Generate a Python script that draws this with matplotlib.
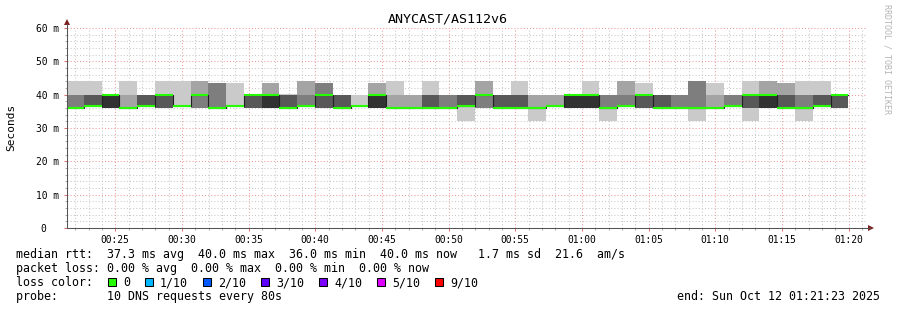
import numpy as np
import matplotlib
matplotlib.use('Agg')
import matplotlib.pyplot as plt
from matplotlib.lines import Line2D
from matplotlib.patches import Polygon, Rectangle

plt.rcParams['font.family'] = 'DejaVu Sans Mono'

W, H = 897, 310

title = 'ANYCAST/AS112v6'
ylabel = 'Seconds'

# window is 00:21:23 .. 01:21:23, x in seconds after 00:21:23
step_len = 80
first_step = -4

# 10 sorted ping rtts (ms) for each 80 s step
pings = [
    [36, 36, 36, 36, 36, 36, 36, 40, 40, 44],
    [36.5, 36.5, 36.5, 36.5, 36.5, 36.5, 40, 40, 40, 44],
    [36, 36, 36, 36, 36, 40, 40, 40, 40, 40.3],
    [36, 36, 36, 36, 36, 36, 36, 36, 40, 44],
    [36.5, 36.5, 36.5, 36.5, 36.5, 36.5, 40, 40, 40, 40],
    [36, 36, 36, 36, 40, 40, 40, 40, 40, 44],
    [36.5, 36.5, 36.5, 36.5, 36.5, 36.5, 36.5, 36.5, 36.5, 44],
    [36, 36, 36, 40, 40, 40, 40, 40, 44, 44],
    [36, 36, 36, 36, 36, 36, 36, 43.6, 43.6, 43.6],
    [36.5, 36.5, 36.5, 36.5, 36.5, 36.5, 36.5, 36.5, 36.5, 43.6],
    [36, 36, 36, 36, 40, 40, 40, 40, 40, 40],
    [36, 36, 36, 36, 36, 40, 40, 40, 43.6, 43.6],
    [36, 36, 36, 36, 36, 36, 40, 40, 40, 40.3],
    [36.5, 36.5, 36.5, 36.5, 36.5, 36.5, 36.5, 40, 44, 44],
    [36, 36, 36, 36, 40, 40, 40, 43.6, 43.6, 43.6],
    [36, 36, 36, 36, 36, 36, 40, 40, 40, 40],
    [36.5, 36.5, 36.5, 36.5, 36.5, 36.5, 36.5, 36.5, 36.5, 40],
    [36, 36, 36, 36, 36, 40, 40, 40, 43.6, 43.6],
    [36, 36, 36, 36, 36, 36, 36, 36, 40, 44],
    [36, 36, 36, 36, 36, 36, 36, 36, 40, 40],
    [36, 36, 36, 36, 36, 36, 40, 40, 40, 44],
    [36, 36, 36, 36, 36, 36, 36, 40, 40, 40],
    [32, 36.5, 36.5, 36.5, 36.5, 36.5, 40, 40, 40, 40],
    [36, 36, 36, 40, 40, 40, 40, 40, 44, 44],
    [36, 36, 36, 36, 36, 36, 40, 40, 40, 40],
    [36, 36, 36, 36, 36, 36, 40, 40, 40, 44],
    [32, 36, 36, 36, 36, 36, 36, 36, 40, 40],
    [36.5, 36.5, 36.5, 36.5, 36.5, 36.5, 36.5, 36.5, 40, 40],
    [36, 36, 36, 36, 36, 40, 40, 40, 40, 40],
    [36, 36, 36, 36, 36, 40, 40, 40, 40, 44],
    [32, 36, 36, 36, 36, 36, 36, 40, 40, 40],
    [36.5, 36.5, 36.5, 36.5, 36.5, 36.5, 36.5, 40, 44, 44],
    [36, 36, 36, 36, 40, 40, 40, 40, 40, 43.6],
    [36, 36, 36, 36, 36, 36, 40, 40, 40, 40],
    [36, 36, 36, 36, 36, 36, 36, 40, 40, 40],
    [32, 36, 36, 36, 36, 36, 36, 44, 44, 44],
    [36, 36, 36, 36, 36, 36, 36, 36, 40, 43.6],
    [36.5, 36.5, 36.5, 36.5, 36.5, 36.5, 36.5, 40, 40, 40],
    [32, 36, 36, 36, 40, 40, 40, 40, 40, 44],
    [36, 36, 36, 36, 36, 40, 40, 40, 44, 44],
    [36, 36, 36, 36, 36, 36, 40, 40, 43.6, 43.6],
    [32, 36, 36, 36, 36, 36, 36, 40, 40, 44],
    [36.5, 36.5, 36.5, 36.5, 36.5, 36.5, 40, 40, 40, 44],
    [36, 36, 36, 36, 40, 40, 40, 40, 40, 40],
]

median = [36, 36.5, 40, 36, 36.5, 40, 36.5, 40, 36, 36.5,
          40, 40, 36, 36.5, 40, 36, 36.5, 40, 36, 36,
          36, 36, 36.5, 40, 36, 36, 36, 36.5, 40, 40,
          36, 36.5, 40, 36, 36, 36, 36, 36.5, 40, 40,
          36, 36, 36.5, 40]

tick_sec = [217, 517, 817, 1117, 1417, 1717, 2017, 2317, 2617, 2917, 3217, 3517]
tick_lab = ['00:25', '00:30', '00:35', '00:40', '00:45', '00:50',
            '00:55', '01:00', '01:05', '01:10', '01:15', '01:20']
ytick_val = [0, 10, 20, 30, 40, 50, 60]
ytick_lab = ['0  ', '10 m', '20 m', '30 m', '40 m', '50 m', '60 m']

stats_rtt = 'median rtt:  37.3 ms avg  40.0 ms max  36.0 ms min  40.0 ms now   1.7 ms sd  21.6  am/s'
stats_loss = 'packet loss: 0.00 % avg  0.00 % max  0.00 % min  0.00 % now'
loss_labels = ['0', '1/10', '2/10', '3/10', '4/10', '5/10', '9/10']
loss_colors = ['#26ff00', '#00b8ff', '#0059ff', '#5e00ff', '#7e00ff', '#dd00ff', '#ff0000']
probe_txt = 'probe:       10 DNS requests every 80s'
end_txt = 'end: Sun Oct 12 01:21:23 2025'

# smokeping grey shades, outer band lightest
half = 5
shades = ['#' + ('%02x' % (int(190 / half * (half - i)) + 50)) * 3 for i in range(1, half + 1)]


def fx(x):
    return x / W


def fy(y):
    return 1 - y / H


fig = plt.figure(figsize=(W / 100, H / 100), dpi=100)
fig.patch.set_facecolor('white')
ax = fig.add_axes([fx(67), fy(228), 800 / W, 200 / H])
ax.set_xlim(0, 3600)
ax.set_ylim(0, 60)
for s in ax.spines.values():
    s.set_visible(False)

p = np.array(pings, dtype=float)
med = np.array(median, dtype=float)
n = len(med)
starts = first_step + step_len * np.arange(n)
edges = np.append(starts, starts[-1] + step_len)

for i in range(half):
    lo = np.append(p[:, i], p[-1, i])
    hi = np.append(p[:, 9 - i], p[-1, 9 - i])
    ax.fill_between(edges, lo, hi, step='post', color=shades[i], lw=0, zorder=2)

ax.step(edges, np.append(med, med[-1]), where='post', color='#202020', lw=0.8, zorder=3)
ax.hlines(med, starts, starts + step_len, color='#26ff00', lw=1.5, zorder=4)

# grid
minor_x = [t for t in range(37, 3600, 60) if (t - 217) % 300 != 0]
minor_y = [v for v in range(2, 60, 2) if v % 10 != 0]
ax.set_xticks(tick_sec, tick_lab)
ax.set_xticks(minor_x, minor=True)
ax.set_yticks(ytick_val, ytick_lab)
ax.set_yticks(minor_y, minor=True)
ax.set_axisbelow(True)
ax.grid(which='minor', color='#c8c8c8', ls=(0, (1, 2)), lw=0.75)
ax.grid(which='major', color='#ee9a9a', ls=(0, (1, 2)), lw=0.75)
ax.tick_params(which='major', length=2, width=0.75, color='#de6f6f', labelsize=6.9, pad=3)
ax.tick_params(which='minor', length=1.5, width=0.75, color='#aaaaaa')
ax.tick_params(axis='y', pad=4)

# axes with arrows
axc = '#555555'
arc = '#801f1f'
fig.add_artist(Line2D([fx(67), fx(870)], [fy(228), fy(228)], color=axc, lw=0.75))
fig.add_artist(Line2D([fx(67), fx(67)], [fy(228), fy(24)], color=axc, lw=0.75))
fig.add_artist(Polygon([[fx(64), fy(25)], [fx(70), fy(25)], [fx(67), fy(19)]], closed=True, color=arc, lw=0))
fig.add_artist(Polygon([[fx(868), fy(225)], [fx(868), fy(231)], [fx(874), fy(228)]], closed=True, color=arc, lw=0))

# titles
fig.text(fx(448), fy(19), title, ha='center', va='center', fontsize=9.6)
fig.text(fx(11), fy(127), ylabel, ha='center', va='center', rotation=90, fontsize=8)
fig.text(fx(887), fy(4), 'RRDTOOL / TOBI OETIKER', ha='center', va='top', rotation=270,
         fontsize=6, color='#b4b4b4')

# legend block
fs = 8.4
cw = 7.0
fig.text(fx(16), fy(258), stats_rtt, fontsize=fs, va='baseline')
fig.text(fx(16), fy(272), stats_loss, fontsize=fs, va='baseline')
fig.text(fx(16), fy(286), 'loss color:', fontsize=fs, va='baseline')
bx = 108
for lab, col in zip(loss_labels, loss_colors):
    fig.add_artist(Rectangle((fx(bx), fy(286)), 8 / W, 8 / H, facecolor=col,
                             edgecolor='black', lw=0.75))
    fig.text(fx(bx + 15), fy(286), lab, fontsize=fs, va='baseline')
    bx = bx + 15 + cw * len(lab) + 15
fig.text(fx(16), fy(300), probe_txt, fontsize=fs, va='baseline')
fig.text(fx(880), fy(300), end_txt, fontsize=fs, va='baseline', ha='right')

fig.savefig('out.png', dpi=100)
